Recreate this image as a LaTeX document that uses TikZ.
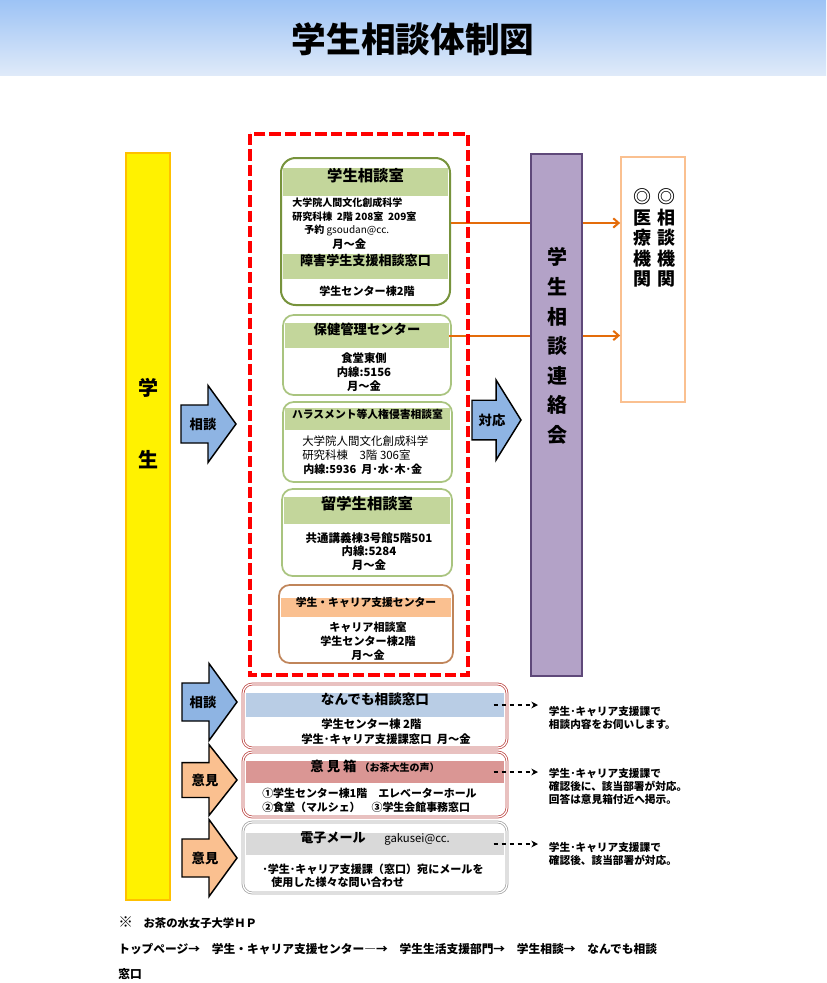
\documentclass[tikz,border=0pt]{standalone}
\usepackage{fontspec}
\setmainfont{Noto Sans CJK JP}
\usetikzlibrary{fit,arrows.meta}

\definecolor{bannertop}{HTML}{9DC3F5}
\definecolor{bannerbot}{HTML}{DFEAF9}
\definecolor{studentedge}{HTML}{FFC000}
\definecolor{arrowblue}{HTML}{8EB4E3}
\definecolor{arroworange}{HTML}{FAC090}
\definecolor{bandgreen}{HTML}{C3D69B}
\definecolor{roomgreen}{HTML}{77933C}
\definecolor{palegreen}{HTML}{A9C47F}
\definecolor{careeredge}{HTML}{C0855A}
\definecolor{renrakufill}{HTML}{B3A2C7}
\definecolor{renrakuedge}{HTML}{5F497A}
\definecolor{kikanedge}{HTML}{FAC090}
\definecolor{lineorange}{HTML}{E46C0A}
\definecolor{bandblue}{HTML}{B9CDE5}
\definecolor{bandred}{HTML}{DA9694}
\definecolor{boxred}{HTML}{C0504D}
\definecolor{bandgray}{HTML}{D9D9D9}
\definecolor{boxgray}{HTML}{A6A6A6}

\newcommand\jfs[2]{\fontsize{#1pt}{#2pt}\selectfont\bfseries}

\tikzset{
  blockarrow/.pic={
    \path[pic actions] (0,-19) -- (27,-19) -- (27,-38.5) -- (55,0)
      -- (27,38.5) -- (27,19) -- (0,19) -- cycle;
  },
}

\begin{document}
\begin{tikzpicture}[x=0.75pt, y=-0.75pt,
  room/.style={draw, fill=white, rounded corners=8pt, inner sep=0pt},
  lowroom/.style={room, rounded corners=7pt, line width=0.6pt, double=white, double distance=0.9pt},
  band/.style={inner sep=0pt},
  txt/.style={inner sep=0pt, align=center},
  lefttxt/.style={inner sep=0pt, anchor=west, align=left},
  tag/.style={inner sep=0pt, font=\jfs{10}{12}},
  orangeline/.style={draw=lineorange, line width=1.5pt},
  orangearrow/.style={orangeline, -{Straight Barb[length=4pt,width=7pt]}},
  notearrow/.style={dash pattern=on 3.5pt off 2.5pt, line width=1pt,
    -{Stealth[length=5pt,width=5pt]}},
  note/.style={anchor=west, inner xsep=8pt, inner ysep=0pt, align=left,
    font=\jfs{8}{9.75}},
]
\useasboundingbox (0,0) rectangle (826,983);
\fill[white] (0,0) rectangle (826,983);
\shade[top color=bannertop, bottom color=bannerbot] (0,0) rectangle (826,75);
\node[font=\jfs{26}{30}] (title) at (413,39) {学生相談体制図};

% student column
\node[fit={(126,153) (170,900)}, draw=studentedge, fill=yellow, line width=1pt, inner sep=0pt] (student) {};
\node[txt, font=\jfs{15}{54}] (studentlbl) at (148,424) {学\\生};

% arrows from the students
\pic[fill=arrowblue, draw=black, line width=1.1pt] (arrsodan) at (181,424) {blockarrow};
\node[tag] (sodanA) at (203,424) {相談};
\pic[fill=arrowblue, draw=black, line width=1.1pt] (arrsodanB) at (182,702) {blockarrow};
\node[tag] (sodanB) at (203,702) {相談};
\pic[fill=arroworange, draw=black, line width=1.1pt, yscale=0.92] (arrikenA) at (182,780) {blockarrow};
\node[tag] (ikenA) at (205,780) {意見};
\pic[fill=arroworange, draw=black, line width=1.1pt] (arrikenB) at (182,858) {blockarrow};
\node[tag] (ikenB) at (205,858) {意見};

% counselling rooms
\node[room, fit={(281,158) (450,305)}, draw=roomgreen, line width=1.5pt, rounded corners=11pt] (soudan) {};
\node[band, fit={(283,168) (448,196)}, fill=bandgreen, font=\jfs{11.5}{13}] (soudanhd) {学生相談室};
\node[lefttxt, font=\jfs{7.5}{9}] (soudanl1) at (292,203) {大学院人間文化創成科学};
\node[lefttxt, font=\jfs{7.5}{9}] (soudanl2) at (292,217) {研究科棟\ \ 2階 208室\ \ 209室};
\node[lefttxt, font=\jfs{7.5}{9}] (soudanl3) at (304,230) {予約 {\mdseries gsoudan@cc.}};
\node[lefttxt, font=\jfs{8.5}{10}] (soudanl4) at (332,244) {月～金};
\node[band, fit={(283,254) (448,279)}, fill=bandgreen, font=\jfs{9.8}{12}] (shogaihd) {障害学生支援相談窓口};
\node[txt, font=\jfs{8.3}{10}] (shogail1) at (367,291) {学生センター棟2階};

\node[room, fit={(283,315) (451,395)}, draw=palegreen, line width=1.3pt] (hoken) {};
\node[band, fit={(285,323) (449,348)}, fill=bandgreen, font=\jfs{10}{12}] (hokenhd) {保健管理センター};
\node[txt, font=\jfs{8.5}{10.5}] (hokenl) at (364,372) {食堂東側\\内線:5156\\月～金};

\node[room, fit={(283,402) (452,482)}, draw=palegreen, line width=1.3pt] (harass) {};
\node[band, fit={(285,408) (450,430)}, fill=bandgreen, font=\jfs{8.1}{10}] (harasshd) {ハラスメント等人権侵害相談室};
\node[lefttxt, font=\fontsize{8.6pt}{10pt}\selectfont] (harassl1) at (302,441) {大学院人間文化創成科学};
\node[lefttxt, font=\fontsize{8.6pt}{10pt}\selectfont] (harassl2) at (302,455) {研究科棟　3階 306室};
\node[lefttxt, font=\jfs{8.3}{10}] (harassl3) at (303,469) {内線:5936\ \ 月･水･木･金};

\node[room, fit={(282,489) (452,576)}, draw=palegreen, line width=1.3pt] (ryugaku) {};
\node[band, fit={(284,497) (450,524)}, fill=bandgreen, font=\jfs{11.5}{13}] (ryugakuhd) {留学生相談室};
\node[txt, font=\jfs{8.6}{10.1}] (ryugakul) at (369,551.5) {共通講義棟3号館5階501\\内線:5284\\月～金};

\node[room, fit={(279,585) (453,663)}, draw=careeredge, line width=1.3pt] (career) {};
\node[band, fit={(281,598) (451,617)}, fill=arroworange, font=\jfs{8.1}{10}] (careerhd) {学生・キャリア支援センター};
\node[txt, font=\jfs{8.3}{10.5}] (careerl) at (368,641) {キャリア相談室\\学生センター棟2階\\月～金};

% liaison council and outside bodies
\pic[fill=arrowblue, draw=black, line width=1.1pt, xscale=0.89, yscale=1.04] (arrtaio) at (472,420) {blockarrow};
\node[tag] (taio) at (492,420) {対応};
\node[fit={(531,154) (582,676)}, draw=renrakuedge, fill=renrakufill, line width=1pt, inner sep=0pt] (renraku) {};
\node[txt, font=\jfs{15}{22.2}] (renrakulbl) at (557,346) {学\\生\\相\\談\\連\\絡\\会};
\node[fit={(621,157) (685,402)}, draw=kikanedge, fill=white, line width=1.3pt, inner sep=0pt] (kikan) {};
\node[txt, font=\jfs{13.5}{15.3}] (kikanA) at (666,238) {◎\\相\\談\\機\\関};
\node[txt, font=\jfs{13.5}{15.3}] (kikanB) at (642,238) {◎\\医\\療\\機\\関};

\coordinate (l1) at ([yshift=6.4pt]soudan.east);
\draw[orangeline] (l1) -- (l1 -| renraku.west);
\draw[orangearrow] (l1 -| renraku.east) -- (l1 -| kikan.west);
\draw[orangeline] (hokenhd.east) -- (hokenhd.east -| renraku.west);
\draw[orangearrow] (hokenhd.east -| renraku.east) -- (hokenhd.east -| kikan.west);

\draw[red, line width=3pt, dash pattern=on 8.5pt off 3pt] (250,134) rectangle (468,675);

% general desk, opinion box, e-mail
\node[lowroom, fit={(243,684) (507,748)}, draw=boxred] (nandemo) {};
\node[band, fit={(246,693) (504,717)}, fill=bandblue, font=\jfs{10.2}{12}] (nandemohd) {なんでも相談窓口};
\node[lefttxt, font=\jfs{8.5}{10}] (nandemol1) at (321,724) {学生センター棟 2階};
\node[lefttxt, font=\jfs{8.5}{10}] (nandemol2) at (301,739) {学生･キャリア支援課窓口\ \ 月～金};

\node[lowroom, fit={(243,752) (507,817)}, draw=boxred] (iken) {};
\node[band, fit={(246,761) (504,783)}, fill=bandred, font=\jfs{10}{12}] (ikenhd) {意 見 箱 {\fontsize{7.5pt}{9pt}\selectfont （お茶大生の声）}};
\node[lefttxt, font=\jfs{8.2}{10}] (ikenl1) at (262,793) {①学生センター棟1階　エレベーターホール};
\node[lefttxt, font=\jfs{8.2}{10}] (ikenl2) at (262,807) {②食堂（マルシェ）　③学生会館事務窓口};

\node[lowroom, fit={(243,822) (507,893)}, draw=boxgray] (mail) {};
\node[band, fit={(246,833) (504,855)}, fill=bandgray, font=\jfs{9.8}{12}] (mailhd) {電子メール\hspace{14pt}{\mdseries\fontsize{8.5pt}{10pt}\selectfont gakusei@cc.}};
\node[lefttxt, font=\jfs{8.3}{10}] (maill1) at (262,869) {･学生･キャリア支援課（窓口）宛にメールを};
\node[lefttxt, font=\jfs{8.3}{10}] (maill2) at (271,882) {使用した様々な問い合わせ};

\node[note] (noteA) at (538,718) {学生･キャリア支援課で\\相談内容をお伺いします。};
\node[note] (noteB) at (538,786) {学生･キャリア支援課で\\確認後に、該当部署が対応。\\回答は意見箱付近へ掲示。};
\node[note] (noteC) at (538,854) {学生･キャリア支援課で\\確認後、該当部署が対応。};
\draw[notearrow] ([xshift=-8pt]nandemohd.east) -- (nandemohd.east -| noteA.west);
\draw[notearrow] ([xshift=-8pt]ikenhd.east) -- (ikenhd.east -| noteB.west);
\draw[notearrow] ([xshift=-8pt]mailhd.east) -- (mailhd.east -| noteC.west);

% footnote
\node[lefttxt, font=\jfs{8.5}{10}] (hp) at (118,923) {{\fontsize{11pt}{12pt}\selectfont ※}\hspace{8pt}お茶の水女子大学ＨＰ};
\node[lefttxt, font=\jfs{8.8}{10}] (path) at (118,949) {トップページ→　学生・キャリア支援センター―→　学生生活支援部門→　学生相談→　なんでも相談};
\node[lefttxt, font=\jfs{8.8}{10}] (pathend) at (118,974) {窓口};
\end{tikzpicture}
\end{document}
